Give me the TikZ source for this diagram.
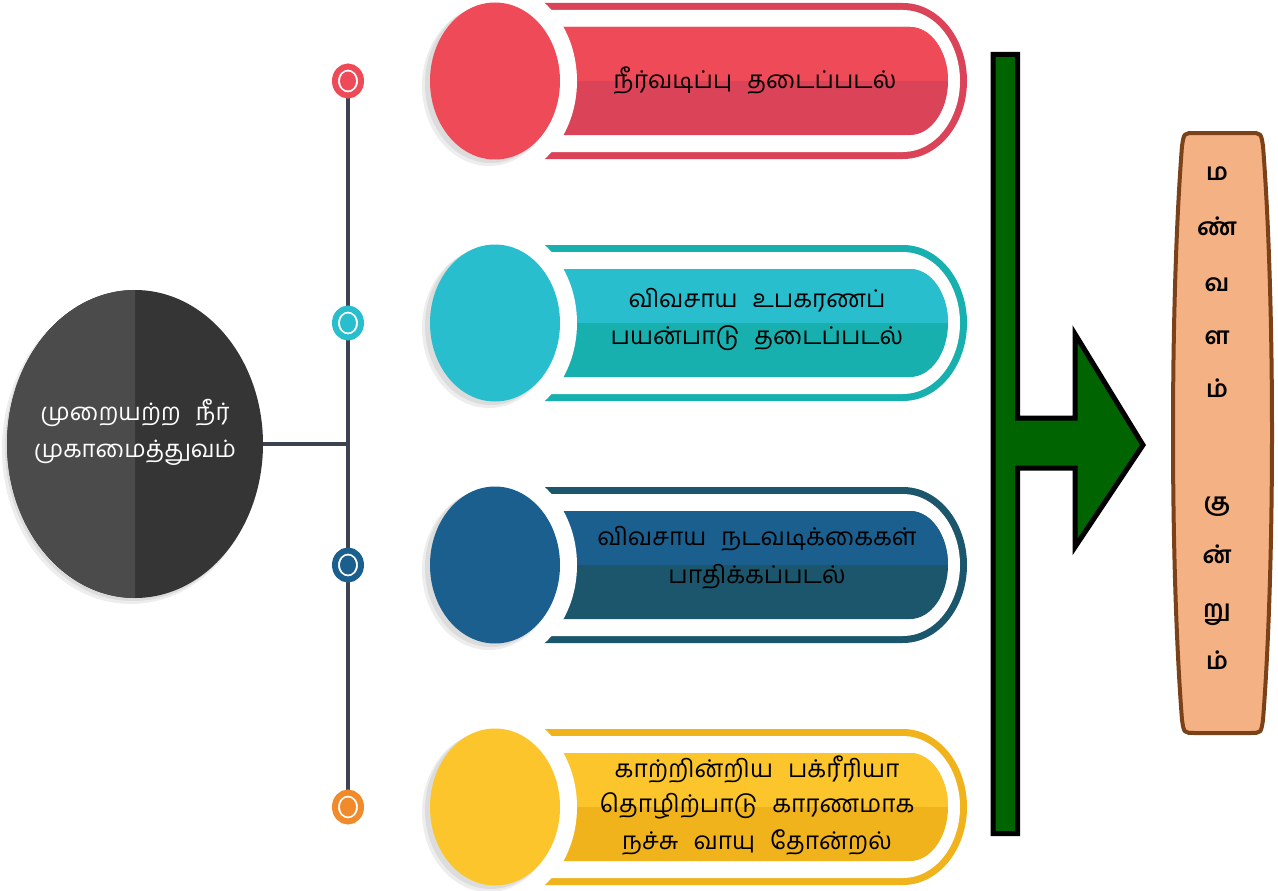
\documentclass[tikz,border=0pt]{standalone}
\usepackage{fontspec}
\newfontfamily\tamil[Script=Tamil]{Hind Madurai}
\usetikzlibrary{shapes.geometric,backgrounds}

\definecolor{redL}{HTML}{EF4A58}
\definecolor{redD}{HTML}{DB4458}
\definecolor{tealL}{HTML}{29BECD}
\definecolor{tealD}{HTML}{18AFAF}
\definecolor{blueL}{HTML}{1B5F8F}
\definecolor{blueD}{HTML}{1B566D}
\definecolor{yelL}{HTML}{FBC52B}
\definecolor{yelD}{HTML}{F1B31B}
\definecolor{dotO}{HTML}{F08A2A}
\definecolor{slate}{HTML}{3B4252}
\definecolor{mainL}{HTML}{4B4B4B}
\definecolor{mainD}{HTML}{353535}
\definecolor{arrowG}{HTML}{006400}
\definecolor{boxF}{HTML}{F4B183}
\definecolor{boxB}{HTML}{7B4119}

\newcommand\pillpath[5]{(#1,{#3-#4}) -- ({#2-#5},{#3-#4}) .. controls ({#2-0.4477*#5},{#3-#4}) and (#2,{#3-0.5523*#4}) .. (#2,#3) .. controls (#2,{#3+0.5523*#4}) and ({#2-0.4477*#5},{#3+#4}) .. ({#2-#5},{#3+#4}) -- (#1,{#3+#4}) -- cycle}

\newcommand\rowitem[4]{%
  \fill[#3] \pillpath{520}{967}{#1}{78}{64};
  \fill[white] \pillpath{520}{960}{#1}{71}{57};
  \fill[#3] \pillpath{530}{948}{#1}{54}{38};
  \begin{scope}
    \clip \pillpath{530}{948}{#1}{54}{38};
    \fill[#2] (520,{#1-60}) rectangle (960,#1);
  \end{scope}
  \fill[white] (495,#1) ellipse [x radius=82, y radius=98];
  \fill[black,opacity=0.07] (489,{#1+5}) ellipse [x radius=67, y radius=80];
  \fill[black,opacity=0.07] (491,{#1+3}) ellipse [x radius=66, y radius=79];
  \node[ellipse, fill=#2, minimum width=130pt, minimum height=157pt, inner sep=0pt] (#4) at (495,#1) {};
}
\newcommand\gap{\hspace{15pt}}

\tikzset{
  rowtext/.style={anchor=mid, inner sep=0pt, font=\tamil\fontsize{24.5}{28}\selectfont, text=black},
  maintext/.style={anchor=mid, inner sep=0pt, font=\tamil\fontsize{24}{28}\selectfont, text=white},
  boxtext/.style={anchor=mid, inner sep=0pt, font=\tamil\bfseries\fontsize{24}{26}\selectfont, text=black},
  dot/.style={ellipse, draw=#1, fill=white, line width=6pt, minimum width=26pt, minimum height=29pt, inner sep=0pt,
    path picture={\fill[#1] (path picture bounding box.center) ellipse [x radius=8, y radius=9.5];}},
  spine/.style={slate, line width=4.5pt},
}

\begin{document}
\begin{tikzpicture}[x=1pt,y=-1pt]
\useasboundingbox (0,0) rectangle (1278,891);
\begin{scope}[on background layer]
  \fill[white] (0,0) rectangle (1278,891);
\end{scope}

% main ellipse
\fill[black,opacity=0.07] (131,449) ellipse [x radius=129, y radius=155];
\fill[black,opacity=0.07] (133,447) ellipse [x radius=128, y radius=154];
\node[ellipse, fill=mainD, minimum width=256pt, minimum height=308pt, inner sep=0pt] (main) at (135,444) {};
\begin{scope}
  \clip (0,280) rectangle (135,610);
  \fill[mainL] (135,444) ellipse [x radius=128, y radius=154];
\end{scope}
\node[maintext] (m1) at (135,418) {முறையற்ற\gap நீர்};
\node[maintext] (m2) at (135,455) {முகாமைத்துவம்};

% rows
\rowitem{81}{redL}{redD}{c1}
\rowitem{323}{tealL}{tealD}{c2}
\rowitem{565}{blueL}{blueD}{c3}
\rowitem{807}{yelL}{yelD}{c4}

\node[rowtext] (t1) at (755,86) {நீர்வடிப்பு\gap தடைப்படல்};
\node[rowtext] (t2a) at (757,305) {விவசாய\gap உபகரணப்};
\node[rowtext] (t2b) at (757,342) {பயன்பாடு\gap தடைப்படல்};
\node[rowtext] (t3a) at (757,543) {விவசாய\gap நடவடிக்கைகள்};
\node[rowtext] (t3b) at (757,581) {பாதிக்கப்படல்};
\node[rowtext] (t4a) at (757,775) {காற்றின்றிய\gap பக்ரீரியா};
\node[rowtext] (t4b) at (757,810) {தொழிற்பாடு\gap காரணமாக};
\node[rowtext] (t4c) at (757,847) {நச்சு\gap வாயு\gap தோன்றல்};

% timeline
\node[dot=redL] (d1) at (348,81) {};
\node[dot=tealL] (d2) at (348,323) {};
\node[dot=blueL] (d3) at (348,565) {};
\node[dot=dotO] (d4) at (348,807) {};
\coordinate (hub) at (348,444);
\begin{scope}[on background layer]
  \draw[spine] (d1.center) -- (d4.center);
  \draw[spine] (main.east) -- (hub);
\end{scope}

% green arrow
\draw[black, line width=5pt, fill=arrowG, line join=miter]
  (993,54.5) -- (1017.5,54.5) -- (1017.5,418) -- (1075,418) -- (1075,334)
  -- (1143,445) -- (1075,547) -- (1075,468) -- (1017.5,468) -- (1017.5,833.5)
  -- (993,833.5) -- cycle;

% result box
\draw[boxB, fill=boxF, line width=4pt]
  (1195,133) -- (1250,133) .. controls (1261,133) .. (1263,146)
  .. controls (1275,300) and (1275,566) .. (1263,720)
  .. controls (1261,733) .. (1250,733) -- (1195,733)
  .. controls (1184,733) .. (1182,720)
  .. controls (1170,566) and (1170,300) .. (1182,146)
  .. controls (1184,133) .. (1195,133) -- cycle;
\foreach \t/\yy [count=\i] in {ம/178, ண்/233, வ/289, ள/342, ம்/395, கு/508, ன்/561, று/615, ம்/667}
  \node[boxtext] (b\i) at (1217,\yy) {\t};
\end{tikzpicture}
\end{document}
